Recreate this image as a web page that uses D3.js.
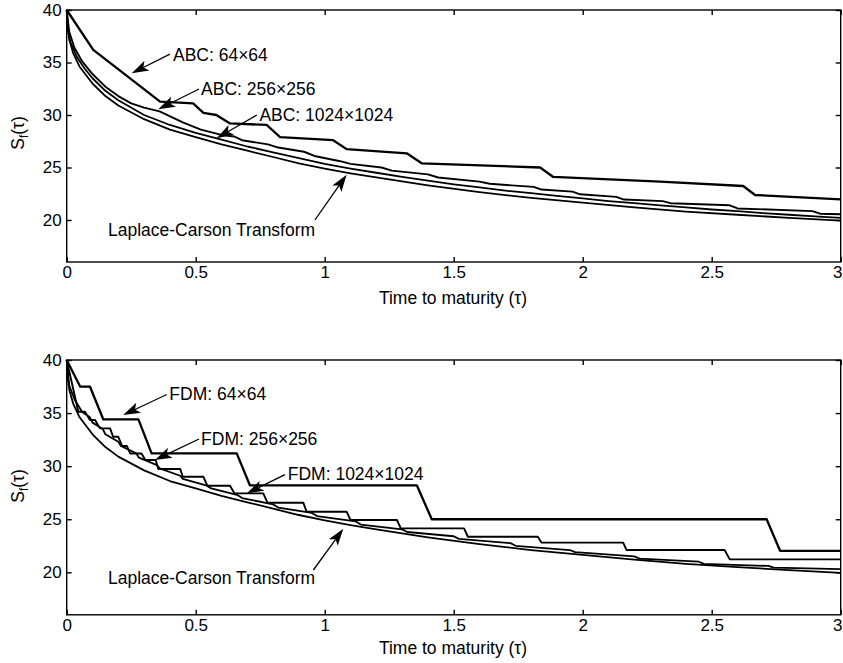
<!DOCTYPE html>
<html>
<head>
<meta charset="utf-8">
<script src="https://cdn.jsdelivr.net/npm/d3@7"></script>
<style>
  html, body { margin: 0; padding: 0; background: #fff; }
  svg { display: block; }
  text { font-family: "Liberation Sans", Arial, Helvetica, sans-serif; fill: #000; }
</style>
</head>
<body>
<svg id="chart" width="843" height="663"></svg>
<script>
// ---------------- DATA ----------------
const xTicks = [0, 0.5, 1, 1.5, 2, 2.5, 3];
const xTickLabels = ["0", "0.5", "1", "1.5", "2", "2.5", "3"];
const yTicks = [20, 25, 30, 35, 40];
const yTickLabels = ["20", "25", "30", "35", "40"];
const xLabel = "Time to maturity (\u03C4)";

// Laplace-Carson Transform (same curve in both panels): [tau, S_f]
const laplaceCarson = [[0,40],[0.003,38.5],[0.01,37.2],[0.025,35.9],[0.05,34.6],[0.1,33.0],[0.15,31.8],[0.2,30.9],[0.3,29.6],[0.4,28.6],[0.5,27.9],[0.6,27.2],[0.7,26.6],[0.8,26.0],[0.9,25.4],[1.0,24.9],[1.1,24.45],[1.2,24.05],[1.4,23.3],[1.6,22.65],[1.8,22.1],[2.0,21.65],[2.2,21.2],[2.4,20.8],[2.6,20.5],[2.8,20.2],[3.0,19.95]];

// ABC panel
const abc64 = [[0,40],[0.103,36.2],[0.362,31.27],[0.49,31.1],[0.53,30.2],[0.58,30.0],[0.633,29.2],[0.775,29.05],[0.827,27.9],[1.033,27.6],[1.085,26.75],[1.318,26.35],[1.376,25.4],[1.835,25.0],[1.886,24.1],[2.3,23.65],[2.622,23.24],[2.668,22.38],[3.0,21.97]];
const abc256 = [[0,40],[0.01,37.9],[0.03,36.4],[0.06,35.1],[0.1,33.9],[0.15,32.7],[0.2,31.8],[0.25,31.1],[0.3,30.7],[0.36,30.35],[0.45,29.3],[0.52,28.6],[0.6,28.1],[0.65,27.95],[0.68,27.6],[0.78,27.2],[0.82,26.9],[0.92,26.5],[0.96,26.1],[1.06,25.6],[1.1,25.35],[1.22,25.0],[1.26,24.7],[1.4,24.35],[1.44,24.05],[1.6,23.65],[1.64,23.45],[1.81,23.15],[1.84,22.9],[1.96,22.7],[1.99,22.45],[2.13,22.2],[2.16,21.95],[2.31,21.8],[2.34,21.6],[2.57,21.4],[2.6,21.1],[2.89,20.85],[2.92,20.6],[3.0,20.55]];
const abc1024 = [[0,40],[0.005,38.0],[0.015,36.9],[0.04,35.5],[0.07,34.4],[0.1,33.5],[0.15,32.3],[0.2,31.4],[0.3,30.0],[0.4,29.05],[0.5,28.3],[0.6,27.65],[0.7,27.0],[0.8,26.45],[0.9,25.9],[1.0,25.35],[1.1,24.9],[1.2,24.5],[1.3,24.1],[1.4,23.75],[1.5,23.4],[1.6,23.1],[1.7,22.8],[1.8,22.55],[1.9,22.3],[2.0,22.05],[2.1,21.8],[2.2,21.6],[2.3,21.4],[2.4,21.2],[2.5,21.0],[2.6,20.85],[2.7,20.65],[2.8,20.5],[2.9,20.35],[3.0,20.2]];

// FDM panel
const fdm64 = [[0,40],[0.052,37.5],[0.09,37.5],[0.142,34.4],[0.278,34.4],[0.329,31.2],[0.659,31.2],[0.71,28.2],[1.357,28.2],[1.415,25.0],[2.713,25.0],[2.765,22.03],[3.0,22.03]];
const fdm256 = [[0,40],[0.045,35.13],[0.071,35.13],[0.09,34.35],[0.11,34.35],[0.129,33.56],[0.168,33.56],[0.18,32.77],[0.2,32.77],[0.215,31.9],[0.233,31.9],[0.246,31.2],[0.29,31.2],[0.305,30.58],[0.345,30.58],[0.355,29.73],[0.44,29.73],[0.45,29.0],[0.53,29.0],[0.545,28.16],[0.633,28.16],[0.65,27.44],[0.762,27.44],[0.778,26.56],[0.917,26.56],[0.93,25.71],[1.085,25.71],[1.1,24.93],[1.28,24.93],[1.295,24.14],[1.54,24.14],[1.555,23.35],[1.826,23.35],[1.84,22.8],[2.157,22.8],[2.17,22.1],[2.55,22.1],[2.57,21.22],[3.0,21.22]];
const fdm1024 = [[0,40],[0.01,37.6],[0.03,36.3],[0.05,35.5],[0.06,35.1],[0.09,34.6],[0.1,34.1],[0.14,33.5],[0.15,33.0],[0.2,32.3],[0.21,31.9],[0.27,31.2],[0.28,30.8],[0.35,30.1],[0.36,29.8],[0.44,29.1],[0.45,28.8],[0.54,28.2],[0.56,27.9],[0.66,27.3],[0.68,27.0],[0.8,26.4],[0.82,26.1],[0.95,25.6],[0.97,25.3],[1.12,24.8],[1.14,24.5],[1.3,24.05],[1.32,23.8],[1.5,23.4],[1.52,23.15],[1.72,22.75],[1.74,22.5],[1.95,22.1],[1.97,21.9],[2.2,21.5],[2.22,21.3],[2.45,21.0],[2.47,20.8],[2.72,20.6],[2.74,20.45],[3.0,20.3]];

// annotation labels: text, text anchor point [tau, S], arrow tail [tau,S], arrow tip [tau,S]
const abcLabels = ["ABC: 64\u00D764", "ABC: 256\u00D7256", "ABC: 1024\u00D71024", "Laplace-Carson Transform"];
const abcTextAt = [[0.408,35.76],[0.517,32.48],[0.743,30.0],[0.156,19.05]];
const abcTail   = [[0.40,35.8],[0.513,32.48],[0.737,30.0],[0.962,20.0]];
const abcTip    = [[0.252,33.97],[0.355,30.54],[0.581,27.78],[1.085,24.3]];

const fdmLabels = ["FDM: 64\u00D764", "FDM: 256\u00D7256", "FDM: 1024\u00D71024", "Laplace-Carson Transform"];
const fdmTextAt = [[0.394,36.8],[0.517,32.56],[0.853,29.26],[0.156,19.46]];
const fdmTail   = [[0.388,36.75],[0.513,32.56],[0.846,29.2],[0.956,20.22]];
const fdmTip    = [[0.219,34.82],[0.342,30.58],[0.698,27.44],[1.072,24.1]];

// ---------------- DRAWING ----------------
const svg = d3.select("#chart");
svg.append("rect").attr("width", 843).attr("height", 663).attr("fill", "#fff");

const xLeft = 66.7, xRight = 840.7;
const FONT = "Liberation Sans, Arial, sans-serif";

function drawPanel(top, bottom, series, widths, labels, textAt, tails, tips, yLabelCenter, xLabelY) {
  const x = d3.scaleLinear().domain([0, 3]).range([xLeft, xRight]);
  const y = d3.scaleLinear().domain([16, 40]).range([bottom, top]);
  const g = svg.append("g");

  // frame
  g.append("rect").attr("x", xLeft).attr("y", top)
    .attr("width", xRight - xLeft).attr("height", bottom - top)
    .attr("fill", "none").attr("stroke", "#000").attr("stroke-width", 1.4);

  const fmtX = (d) => xTickLabels[xTicks.indexOf(d)];
  const fmtY = (d) => yTickLabels[yTicks.indexOf(d)];

  const ab = g.append("g").attr("transform", `translate(0,${bottom})`)
    .call(d3.axisBottom(x).tickValues(xTicks).tickSize(-5).tickPadding(4).tickFormat(fmtX));
  const at = g.append("g").attr("transform", `translate(0,${top})`)
    .call(d3.axisTop(x).tickValues(xTicks).tickSize(-5).tickFormat(""));
  const al = g.append("g").attr("transform", `translate(${xLeft},0)`)
    .call(d3.axisLeft(y).tickValues(yTicks).tickSize(-5).tickPadding(5).tickFormat(fmtY));
  const ar = g.append("g").attr("transform", `translate(${xRight},0)`)
    .call(d3.axisRight(y).tickValues(yTicks).tickSize(-5).tickFormat(""));
  [ab, at, al, ar].forEach(a => {
    a.select(".domain").remove();
    a.selectAll("line").attr("stroke", "#000").attr("stroke-width", 1.4);
    a.selectAll("text").attr("font-size", 17).attr("font-family", FONT).attr("fill", "#000");
  });
  // last x label sits at the right edge: right-align it so it stays inside
  ab.selectAll(".tick").filter(d => d === 3).select("text")
    .attr("text-anchor", "end").attr("x", 842 - xRight);

  // series
  const line = d3.line().x(d => x(d[0])).y(d => y(d[1]));
  series.forEach((s, i) => {
    g.append("path").datum(s).attr("d", line)
      .attr("fill", "none").attr("stroke", "#000")
      .attr("stroke-width", widths[i]).attr("stroke-linejoin", "round");
  });

  // annotations
  labels.forEach((lab, i) => {
    const tx = x(tails[i][0]), ty = y(tails[i][1]);
    const px = x(tips[i][0]), py = y(tips[i][1]);
    const ang = Math.atan2(py - ty, px - tx);
    const L = 17, W = 5.5, N = 13;
    const ux = Math.cos(ang), uy = Math.sin(ang);
    const bx = px - ux * L, by = py - uy * L;
    const nx = px - ux * N, ny = py - uy * N;
    g.append("line").attr("x1", tx).attr("y1", ty).attr("x2", nx).attr("y2", ny)
      .attr("stroke", "#000").attr("stroke-width", 1.3);
    const pts = [[px, py], [bx - uy * W, by + ux * W], [nx, ny], [bx + uy * W, by - ux * W]];
    g.append("polygon").attr("points", pts.map(p => p.join(",")).join(" ")).attr("fill", "#000");
    g.append("text").attr("x", x(textAt[i][0]) + 1).attr("y", y(textAt[i][1]))
      .attr("dy", "0.36em").attr("font-size", 17.5).text(lab);
  });

  // y label S_f(tau)
  const yl = g.append("text")
    .attr("transform", `translate(24,${yLabelCenter}) rotate(-90)`)
    .attr("text-anchor", "middle").attr("font-size", 17.5);
  yl.append("tspan").text("S");
  yl.append("tspan").attr("font-size", 12).attr("dy", 4).text("f");
  yl.append("tspan").attr("dy", -4).text("(\u03C4)");

  // x label
  g.append("text").attr("x", 453).attr("y", xLabelY).attr("dy", "0.35em")
    .attr("text-anchor", "middle").attr("font-size", 17.5).text(xLabel);
}

drawPanel(10, 262, [abc64, abc256, abc1024, laplaceCarson], [2.3, 1.9, 1.8, 1.8],
  abcLabels, abcTextAt, abcTail, abcTip, 133, 298);
drawPanel(360, 614.8, [fdm64, fdm256, fdm1024, laplaceCarson], [2.3, 1.9, 1.8, 1.8],
  fdmLabels, fdmTextAt, fdmTail, fdmTip, 486, 648);
</script>
</body>
</html>
